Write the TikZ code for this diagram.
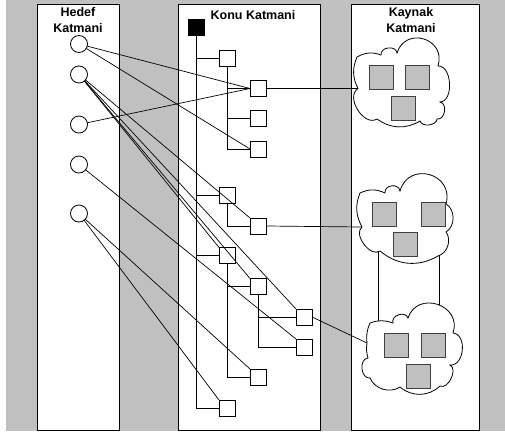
\documentclass[tikz,border=0pt]{standalone}
\usepackage{fontspec}
\setmainfont{Liberation Sans}
\definecolor{bggray}{HTML}{C0C0C0}
\definecolor{edgegray}{HTML}{404040}
\begin{document}
\begin{tikzpicture}[x=1pt,y=-1pt,
  every node/.style={inner sep=0pt, outer sep=0pt},
  lbl/.style={font=\bfseries\fontsize{12.5}{16}\selectfont, align=center, anchor=north},
  col/.style={draw=black, fill=white, line width=0.9pt},
  hnode/.style={circle, draw, fill=white, minimum size=17pt, line width=0.8pt},
  tnode/.style={rectangle, draw, fill=white, minimum size=16pt, line width=0.8pt},
  rootbox/.style={tnode, fill=black},
  res/.style={rectangle, draw=edgegray, fill=bggray, minimum size=24pt, line width=0.9pt},
  tree/.style={line width=0.8pt},
  link/.style={line width=0.7pt},
  cloudline/.style={line width=0.8pt, fill=white}
]
\useasboundingbox (0,0) rectangle (505,431);
% background and the three layer columns
\fill[bggray] (6,0) rectangle (505,431);
\draw[col] (37,4) rectangle (119,430);
\draw[col] (178,4) rectangle (320,430);
\draw[col] (351,4) rectangle (479,430);

\node[lbl] (hdrA) at (78,7) {Hedef\\Katmani};
\node[lbl] (hdrB) at (253,10) {Konu Katmani};
\node[lbl] (hdrC) at (411,7.5) {Kaynak\\Katmani};

% target layer
\node[hnode] (H1) at (79,44) {};
\node[hnode] (H2) at (79,74.5) {};
\node[hnode] (H3) at (79,124.5) {};
\node[hnode] (H4) at (79,164.5) {};
\node[hnode] (H5) at (79,213.5) {};

% topic tree
\node[rootbox] (R) at (196,27) {};
\node[tnode] (A1) at (227,58) {};
\node[tnode] (A2) at (227,195) {};
\node[tnode] (A3) at (227,255.5) {};
\node[tnode] (A4) at (227,408) {};
\node[tnode] (B1) at (258,88.5) {};
\node[tnode] (B2) at (258,118.5) {};
\node[tnode] (B3) at (258,149) {};
\node[tnode] (B4) at (258,226) {};
\node[tnode] (B5) at (258,286.5) {};
\node[tnode] (B6) at (258,377) {};
\node[tnode] (C1) at (304,317) {};
\node[tnode] (C2) at (304,347) {};

\draw[tree] (R.south) |- (A4.west);
\foreach \a in {A1,A2,A3} \draw[tree] (R.south |- \a.west) -- (\a.west);
\draw[tree] (A1.south) |- (B3.west);
\foreach \b in {B1,B2} \draw[tree] (A1.south |- \b.west) -- (\b.west);
\draw[tree] (A2.south) |- (B4.west);
\draw[tree] (A3.south) |- (B6.west);
\draw[tree] (A3.south |- B5.west) -- (B5.west);
\draw[tree] (B5.south) |- (C2.west);
\draw[tree] (B5.south |- C1.west) -- (C1.west);

% target-to-topic links
\draw[link] (H1) -- (B1.west);
\draw[link] (H1) -- (B3.west);
\draw[link] (H3) -- (B1.west);
\draw[link] (H2) -- (A3.north west);
\draw[link] (H2) -- (B5.north west);
\draw[link] (H2) -- (C1.north west);
\draw[link] (H2) -- (B4.north west);
\draw[link] (H4) -- (C2.north west);
\draw[link] (H5) -- (B6.north west);
\draw[link] (H5) -- (A4.north west);

% links between the two lower resource clouds
\coordinate (u1) at (378,245);
\coordinate (u2) at (378,332);
\coordinate (v1) at (439,250);
\coordinate (v2) at (439,310);
\draw[link] (u1) -- (u2);
\draw[link] (v1) -- (v2);

% resource clouds
\draw[cloudline] (357,57)
  to[bend left=25] (381,55)
  to[bend left=90, looseness=1.3] (397,53)
  to[bend left=90, looseness=1.7] (438,66)
  to[bend left=90] (440,102)
  to[bend left=90, looseness=1.2] (437,119)
  to[bend left=80] (420,121)
  to[bend left=33] (377,119)
  to[bend left=90, looseness=1.1] (358,88.5) coordinate (k1)
  to[bend left=25] (357,57) -- cycle;
\draw[cloudline] (360,193)
  to[bend left=25] (385,193)
  to[bend left=90, looseness=1.4] (400,191)
  to[bend left=90, looseness=1.7] (446,204)
  to[bend left=60] (446,232)
  to[bend left=55] (438,256)
  to[bend left=35] (380,251)
  to[bend left=90] (362,227) coordinate (k2)
  to[bend left=25] (360,193) -- cycle;
\draw[cloudline] (370,323)
  to[bend left=20] (393,323)
  to[bend left=90, looseness=1.3] (408,318)
  to[bend left=90, looseness=1.6] (453,333)
  to[bend left=90, looseness=1.15] (450,365)
  to[bend left=90] (440,386)
  to[bend left=42] (400,387)
  to[bend left=50] (370,378)
  to[bend left=90, looseness=1.2] (368,358)
  to[bend left=12] (367,343) coordinate (k3)
  to[bend left=15] (370,323) -- cycle;

\draw[link] (B1.east) -- (k1);
\draw[link] (B4.east) -- (k2);
\draw[link] (C1.east) -- (k3);

\node[res] (r11) at (381,77) {};
\node[res] (r12) at (417.5,77) {};
\node[res] (r13) at (403,108) {};
\node[res] (r21) at (384.5,214) {};
\node[res] (r22) at (433.5,214) {};
\node[res] (r23) at (405.5,244.5) {};
\node[res] (r31) at (396.5,345.5) {};
\node[res] (r32) at (433.5,345.5) {};
\node[res] (r33) at (418,376) {};
\end{tikzpicture}
\end{document}
